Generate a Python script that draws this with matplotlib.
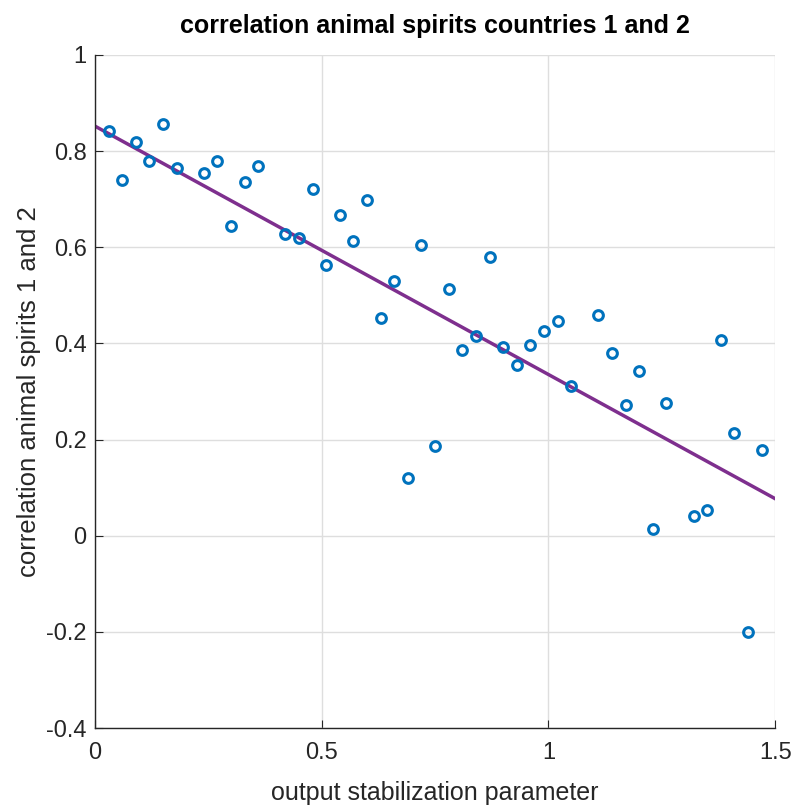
import matplotlib.pyplot as plt
import numpy as np

plt.rcParams['font.family'] = ['Liberation Sans', 'DejaVu Sans']

# stabilization parameter values and simulated correlations
stab_param = [0.03, 0.06, 0.09, 0.12, 0.15, 0.18, 0.24, 0.27, 0.30, 0.33,
              0.36, 0.42, 0.45, 0.48, 0.51, 0.54, 0.57, 0.60, 0.63, 0.66,
              0.69, 0.72, 0.75, 0.78, 0.81, 0.84, 0.87, 0.90, 0.93, 0.96,
              0.99, 1.02, 1.05, 1.11, 1.14, 1.17, 1.20, 1.23, 1.26, 1.32,
              1.35, 1.38, 1.41, 1.44, 1.47]
corr_spirits = [0.842, 0.740, 0.818, 0.780, 0.856, 0.765, 0.754, 0.780, 0.644, 0.735,
                0.770, 0.627, 0.619, 0.721, 0.563, 0.667, 0.613, 0.698, 0.453, 0.530,
                0.120, 0.604, 0.187, 0.513, 0.386, 0.415, 0.579, 0.392, 0.355, 0.396,
                0.426, 0.447, 0.311, 0.459, 0.380, 0.272, 0.342, 0.014, 0.276, 0.041,
                0.053, 0.407, 0.214, -0.200, 0.178]

# fitted line end points
fit_x = [0.0, 1.5]
fit_y = [0.852, 0.077]

xticks = [0, 0.5, 1, 1.5]
xtick_labels = ['0', '0.5', '1', '1.5']
yticks = [-0.4, -0.2, 0, 0.2, 0.4, 0.6, 0.8, 1]
ytick_labels = ['-0.4', '-0.2', '0', '0.2', '0.4', '0.6', '0.8', '1']

fig = plt.figure(figsize=(8.05, 8.11), dpi=100)
ax = fig.add_axes([0.118, 0.1023, 0.845, 0.8299])

ax.plot(stab_param, corr_spirits, 'o', markerfacecolor='none',
        markeredgecolor='#0072BD', markeredgewidth=2.2, markersize=7, zorder=3)
ax.plot(fit_x, fit_y, color='#7E2F8E', linewidth=2.5, zorder=2)

ax.set_xlim(0, 1.5)
ax.set_ylim(-0.4, 1)
ax.set_xticks(xticks)
ax.set_xticklabels(xtick_labels)
ax.set_yticks(yticks)
ax.set_yticklabels(ytick_labels)

ax.grid(True, color='#dedede', linewidth=1)
ax.set_axisbelow(True)
for s in ['top', 'right']:
    ax.spines[s].set_visible(False)
for s in ['left', 'bottom']:
    ax.spines[s].set_color('#262626')
    ax.spines[s].set_linewidth(1)
ax.tick_params(direction='in', length=6, labelsize=17, colors='#262626')
ax.tick_params(axis='x', pad=10)
ax.tick_params(axis='y', pad=6)

ax.set_xlabel('output stabilization parameter', fontsize=18, color='#262626', labelpad=12)
ax.set_ylabel('correlation animal spirits 1 and 2', fontsize=18.5, color='#262626', labelpad=4)
ax.set_title('correlation animal spirits countries 1 and 2', fontsize=18,
             fontweight='bold', pad=16)

fig.savefig('out.png', dpi=100)
